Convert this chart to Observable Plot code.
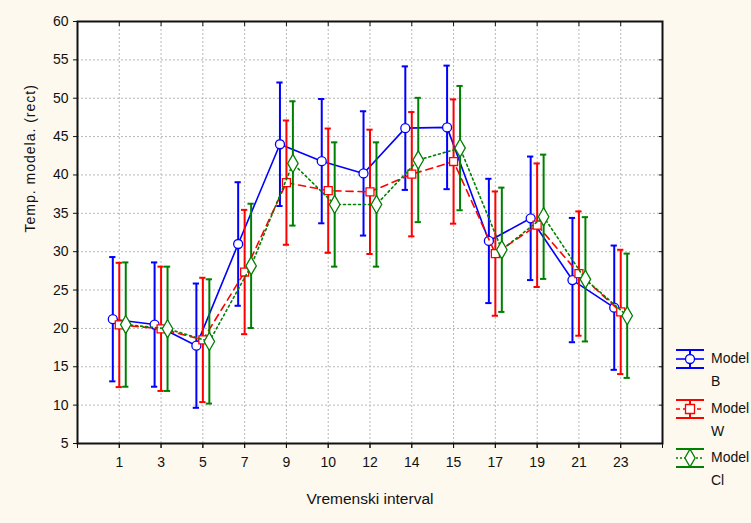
<!DOCTYPE html>
<html>
<head>
<meta charset="utf-8">
<script src="https://cdn.jsdelivr.net/npm/d3@7"></script>
<script src="https://cdn.jsdelivr.net/npm/@observablehq/plot@0.6"></script>
<style>
  html, body { margin: 0; padding: 0; background: #fdf9ef; }
  #wrap { position: relative; width: 751px; height: 523px; background: #fdf9ef; font-family: "Liberation Sans", Arial, sans-serif; color: #111; }
  #chart svg { display: block; }
  .leg { position: absolute; font-size: 14px; line-height: 16px; color: #111; }
</style>
</head>
<body>
<div id="wrap"><div id="chart"></div></div>
<script>
// Time intervals on the horizontal axis
const intervals = ["1", "3", "5", "7", "9", "10", "12", "14", "15", "17", "19", "21", "23"];

// Mean model temperature per interval and confidence half-width
const meanB  = [21.2, 20.5, 17.75, 31.0, 44.0, 41.8, 40.2, 46.1, 46.2, 31.4, 34.35, 26.3, 22.7];
const ciB    = [8.1, 8.1, 8.1, 8.05, 8.05, 8.1, 8.1, 8.05, 8.05, 8.1, 8.05, 8.1, 8.1];
const meanW  = [20.45, 19.95, 18.5, 27.35, 39.0, 37.95, 37.8, 40.1, 41.75, 29.75, 33.45, 27.15, 22.15];
const ciW    = [8.1, 8.1, 8.1, 8.1, 8.1, 8.1, 8.1, 8.1, 8.1, 8.1, 8.05, 8.1, 8.1];
const meanCl = [20.5, 19.95, 18.3, 28.15, 41.5, 36.15, 36.15, 41.95, 43.5, 30.25, 34.55, 26.4, 21.65];
const ciCl   = [8.1, 8.1, 8.1, 8.1, 8.1, 8.1, 8.1, 8.1, 8.1, 8.1, 8.1, 8.1, 8.1];

const yTicks = [5, 10, 15, 20, 25, 30, 35, 40, 45, 50, 55, 60];

const series = [
  {name: "Model", sub: "B",  mean: meanB,  ci: ciB,  color: "#0000ff", dash: null,  symbol: "circle",  r: 4.5, shift: -0.155},
  {name: "Model", sub: "W",  mean: meanW,  ci: ciW,  color: "#ff0000", dash: "7,5", symbol: "square",  r: 4.5, shift: 0},
  {name: "Model", sub: "Cl", mean: meanCl, ci: ciCl, color: "#008000", dash: "2,3", symbol: "diamond", r: 5.5, shift: 0.155}
];

const xPos = intervals.map((_, i) => i + 1);
const capHalf = 0.075;

const marks = [
  Plot.frame({fill: "white", stroke: "none"}),
  Plot.gridY({ticks: yTicks.slice(1, -1), stroke: "#b8b8b8", strokeOpacity: 1, strokeDasharray: "2,2"}),
  Plot.gridX({ticks: xPos, stroke: "#b8b8b8", strokeOpacity: 1, strokeDasharray: "2,2"})
];

for (const s of series) {
  const rows = s.mean.map((m, i) => ({x: i + 1 + s.shift, m, lo: m - s.ci[i], hi: m + s.ci[i]}));
  marks.push(
    Plot.line(rows, {x: "x", y: "m", stroke: s.color, strokeWidth: 1.6, strokeDasharray: s.dash}),
    Plot.ruleX(rows, {x: "x", y1: "lo", y2: "hi", stroke: s.color, strokeWidth: 2}),
    Plot.ruleY(rows, {y: "lo", x1: d => d.x - capHalf, x2: d => d.x + capHalf, stroke: s.color, strokeWidth: 2}),
    Plot.ruleY(rows, {y: "hi", x1: d => d.x - capHalf, x2: d => d.x + capHalf, stroke: s.color, strokeWidth: 2}),
    Plot.dot(rows, {x: "x", y: "m", symbol: s.symbol, r: s.r, fill: "white", stroke: s.color, strokeWidth: 1.3})
  );
}

marks.push(
  Plot.axisY({ticks: yTicks, anchor: "left", tickSize: 4, tickPadding: 5, fontSize: 14, label: null}),
  Plot.axisY({ticks: yTicks, anchor: "right", tickSize: -4, tickFormat: () => "", label: null}),
  Plot.axisX({ticks: xPos, anchor: "bottom", tickSize: 5, tickPadding: 9, fontSize: 14, tickFormat: d => intervals[d - 1], label: null}),
  Plot.axisX({ticks: d3.range(0, 15), anchor: "bottom", tickSize: 5, tickFormat: () => "", label: null}),
  Plot.axisX({ticks: d3.range(0, 15), anchor: "top", tickSize: -4, tickFormat: () => "", label: null}),
  Plot.text(["Temp. modela. (rect)"], {frameAnchor: "left", dx: -47, rotate: -90, fontSize: 14, fill: "#111"}),
  Plot.text(["Vremenski interval"], {frameAnchor: "bottom", dy: 60, fontSize: 15.5, fill: "#111"}),
  Plot.frame({stroke: "#111", strokeWidth: 2})
);

const chart = Plot.plot({
  width: 751,
  height: 523,
  marginLeft: 77,
  marginRight: 89,
  marginTop: 21,
  marginBottom: 80,
  style: {background: "transparent", fontFamily: "'Liberation Sans', Arial, sans-serif", fontSize: "14px", color: "#111"},
  x: {domain: [0, 14], axis: null},
  y: {domain: [5, 60], axis: null},
  marks
});
document.getElementById("chart").append(chart);

// letter spacing on the vertical title
d3.select(chart).selectAll("text").filter(function () { return this.textContent === "Temp. modela. (rect)"; })
  .style("letter-spacing", "1px");

// Legend: error-bar swatch with the series line style, then the name on two lines
const wrap = document.getElementById("wrap");
series.forEach((s, i) => {
  const cy = 359 + i * 49.5;
  const ns = "http://www.w3.org/2000/svg";
  const svg = document.createElementNS(ns, "svg");
  svg.setAttribute("width", 30);
  svg.setAttribute("height", 24);
  svg.style.position = "absolute";
  svg.style.left = "675px";
  svg.style.top = (cy - 12) + "px";
  const g = d3.select(svg);
  g.append("line").attr("x1", 1).attr("x2", 29).attr("y1", 3).attr("y2", 3).attr("stroke", s.color).attr("stroke-width", 2);
  g.append("line").attr("x1", 1).attr("x2", 29).attr("y1", 21).attr("y2", 21).attr("stroke", s.color).attr("stroke-width", 2);
  g.append("line").attr("x1", 15).attr("x2", 15).attr("y1", 3).attr("y2", 21).attr("stroke", s.color).attr("stroke-width", 2);
  g.append("line").attr("x1", 1).attr("x2", 29).attr("y1", 12).attr("y2", 12).attr("stroke", s.color).attr("stroke-width", 1.6)
    .attr("stroke-dasharray", s.dash ? (s.dash === "7,5" ? "4,3" : "2,2") : null);
  const sym = s.symbol === "circle" ? d3.symbolCircle : s.symbol === "square" ? d3.symbolSquare : d3.symbolDiamond;
  const area = s.symbol === "circle" ? Math.PI * s.r * s.r : s.symbol === "square" ? 81 : 90;
  g.append("path").attr("d", d3.symbol(sym, area)()).attr("transform", "translate(15,12)")
    .attr("fill", "white").attr("stroke", s.color).attr("stroke-width", 1.3);
  wrap.append(svg);
  const t = document.createElement("div");
  t.className = "leg";
  t.style.left = "711px";
  t.style.top = (cy - 9) + "px";
  t.innerHTML = s.name + "<br><span style='display:inline-block;margin-top:7px'>" + s.sub + "</span>";
  wrap.append(t);
});
</script>
</body>
</html>
